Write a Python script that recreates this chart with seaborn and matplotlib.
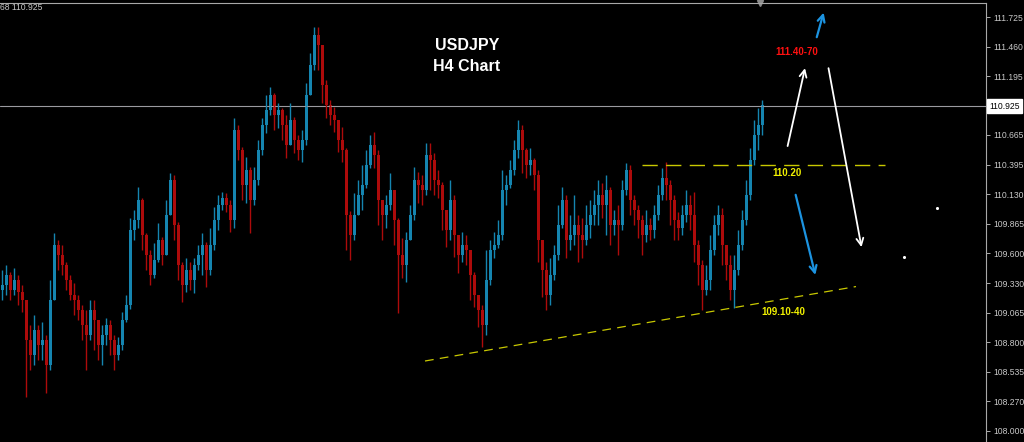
import matplotlib

matplotlib.use("Agg")
import matplotlib.pyplot as plt
import numpy as np
import seaborn as sns

# USDJPY H4 mumları (soldan sağa), açılış = önceki kapanış
FIRST_OPEN = 109.27
CLOSES = [
    109.31, 109.40, 109.27, 109.36, 109.25, 109.18, 108.82, 108.68, 108.91, 108.77,
    108.82, 108.59, 109.18, 109.67, 109.58, 109.49, 109.36, 109.22, 109.18, 109.09,
    108.95, 108.86, 109.09, 109.00, 108.77, 108.86, 108.95, 108.82, 108.68, 108.77,
    109.00, 109.13, 109.81, 109.90, 110.08, 109.76, 109.58, 109.40, 109.54, 109.72,
    109.58, 109.94, 110.26, 109.85, 109.49, 109.31, 109.45, 109.36, 109.49, 109.58,
    109.67, 109.45, 109.67, 109.90, 110.03, 110.10, 110.03, 109.90, 110.71, 110.53,
    110.21, 110.35, 110.08, 110.26, 110.53, 110.75, 110.89, 111.02, 110.84, 110.89,
    110.75, 110.57, 110.80, 110.62, 110.53, 110.62, 111.02, 111.29, 111.56, 111.47,
    111.11, 110.93, 110.84, 110.80, 110.62, 110.53, 109.94, 109.76, 109.94, 110.12,
    110.21, 110.39, 110.57, 110.48, 110.08, 109.94, 110.03, 110.17, 109.90, 109.58,
    109.49, 109.72, 109.94, 110.26, 110.21, 110.17, 110.48, 110.44, 110.26, 110.21,
    109.99, 109.81, 110.08, 109.76, 109.58, 109.67, 109.63, 109.40, 109.22, 109.09,
    108.95, 109.36, 109.63, 109.67, 109.76, 110.17, 110.21, 110.35, 110.53, 110.71,
    110.53, 110.39, 110.44, 110.30, 109.72, 109.45, 109.22, 109.40, 109.58, 109.85,
    110.08, 109.72, 109.76, 109.85, 109.76, 109.72, 109.85, 109.94, 110.03, 110.12,
    110.03, 110.17, 109.85, 109.90, 109.85, 110.17, 110.35, 110.08, 109.99, 109.90,
    109.76, 109.85, 109.81, 109.94, 110.12, 110.28, 110.21, 110.08, 109.90, 109.83,
    109.94, 110.03, 109.94, 109.67, 109.49, 109.27, 109.36, 109.63, 109.85, 109.94,
    109.67, 109.49, 109.27, 109.45, 109.67, 109.90, 110.12, 110.44, 110.66, 110.75,
    110.93,
]
HIGHS = [
    109.45, 109.49, 109.43, 109.47, 109.40, 109.31, 109.18, 108.95, 109.04, 108.95,
    108.98, 108.86, 109.36, 109.78, 109.72, 109.67, 109.52, 109.40, 109.33, 109.22,
    109.13, 109.09, 109.18, 109.18, 109.00, 108.95, 109.02, 109.00, 108.86, 108.85,
    109.07, 109.22, 109.92, 109.99, 110.20, 110.10, 109.78, 109.63, 109.69, 109.87,
    109.75, 110.08, 110.32, 110.30, 109.88, 109.52, 109.56, 109.52, 109.56, 109.67,
    109.78, 109.70, 109.83, 110.02, 110.12, 110.15, 110.14, 110.08, 110.82, 110.75,
    110.56, 110.47, 110.38, 110.38, 110.62, 110.82, 111.02, 111.10, 111.04, 110.95,
    110.91, 110.84, 110.95, 110.83, 110.66, 110.71, 111.13, 111.40, 111.64, 111.64,
    111.47, 111.16, 110.98, 110.92, 110.80, 110.74, 110.55, 109.98, 110.14, 110.26,
    110.39, 110.53, 110.66, 110.69, 110.53, 110.08, 110.12, 110.32, 110.17, 109.92,
    109.74, 109.79, 110.03, 110.38, 110.33, 110.30, 110.59, 110.59, 110.50, 110.35,
    110.24, 109.99, 110.26, 110.12, 109.76, 109.79, 109.76, 109.63, 109.43, 109.22,
    109.13, 109.63, 109.72, 109.79, 109.90, 110.35, 110.30, 110.44, 110.62, 110.80,
    110.75, 110.55, 110.55, 110.46, 110.35, 109.72, 109.52, 109.56, 109.67, 110.03,
    110.20, 110.12, 109.94, 110.12, 109.94, 109.92, 110.03, 110.08, 110.17, 110.26,
    110.23, 110.30, 110.20, 109.99, 110.03, 110.26, 110.41, 110.39, 110.12, 110.03,
    109.94, 109.99, 109.92, 110.03, 110.21, 110.37, 110.42, 110.26, 110.12, 109.97,
    110.03, 110.17, 110.12, 110.15, 109.72, 109.54, 109.49, 109.76, 109.94, 110.03,
    110.01, 109.67, 109.58, 109.58, 109.81, 109.99, 110.26, 110.55, 110.80, 110.91,
    110.98,
]
LOWS = [
    109.18, 109.22, 109.18, 109.22, 109.13, 109.07, 108.31, 108.55, 108.59, 108.64,
    108.64, 108.34, 108.55, 109.18, 109.45, 109.40, 109.27, 109.18, 109.04, 109.00,
    108.82, 108.55, 108.82, 108.73, 108.64, 108.59, 108.77, 108.68, 108.55, 108.64,
    108.73, 108.98, 109.10, 109.72, 109.83, 109.63, 109.45, 109.31, 109.38, 109.52,
    109.49, 109.58, 109.94, 109.72, 109.36, 109.16, 109.25, 109.27, 109.24, 109.45,
    109.40, 109.30, 109.40, 109.63, 109.81, 109.99, 109.97, 109.79, 109.83, 110.44,
    110.08, 110.05, 109.78, 110.03, 110.21, 110.48, 110.68, 110.84, 110.71, 110.73,
    110.62, 110.46, 110.57, 110.50, 110.44, 110.42, 110.57, 111.02, 111.25, 111.25,
    110.95, 110.82, 110.75, 110.69, 110.51, 110.42, 109.63, 109.54, 109.72, 109.94,
    109.99, 110.19, 110.37, 110.37, 109.85, 109.72, 109.83, 109.99, 109.67, 109.06,
    109.38, 109.34, 109.72, 109.90, 110.05, 110.03, 110.12, 110.17, 110.12, 110.10,
    109.81, 109.66, 109.72, 109.57, 109.42, 109.52, 109.49, 109.18, 109.12, 108.94,
    108.76, 108.86, 109.31, 109.56, 109.65, 109.72, 110.03, 110.19, 110.30, 110.46,
    110.32, 110.28, 110.30, 110.17, 109.52, 109.21, 109.09, 109.13, 109.36, 109.54,
    109.83, 109.56, 109.63, 109.67, 109.52, 109.56, 109.67, 109.74, 109.85, 109.85,
    109.92, 109.76, 109.67, 109.76, 109.58, 109.81, 110.12, 109.94, 109.85, 109.74,
    109.58, 109.70, 109.72, 109.74, 109.90, 110.08, 110.08, 109.85, 109.72, 109.72,
    109.76, 109.88, 109.81, 109.52, 109.31, 109.09, 109.22, 109.27, 109.58, 109.76,
    109.49, 109.36, 109.18, 109.11, 109.40, 109.63, 109.85, 110.08, 110.39, 110.53,
    110.66,
]

Y_TICKS = [108.000, 108.270, 108.535, 108.800, 109.065, 109.330, 109.600,
           109.865, 110.130, 110.395, 110.665, 111.195, 111.460, 111.725]
CURRENT_PRICE = 110.925

RESISTANCE_X = [160, 220.75]
RESISTANCE_Y = [110.39, 110.39]
SUPPORT_X = [105.75, 213.5]
SUPPORT_Y = [108.63, 109.30]

DOT_X = [233.75, 225.5]
DOT_Y = [110.01, 109.57]

# (başlangıç, uç) — mum indeksi ve fiyat
WHITE_ARROWS = [((196.25, 110.54), (200.9, 111.29)), ((206.5, 111.29), (215.0, 109.63))]
BLUE_ARROWS = [((203.5, 111.52), (205.6, 111.79)), ((198.25, 110.15), (203.5, 109.38))]

BULL = "#1585b0"
BEAR = "#ad0b0b"
LINE_YELLOW = "#c8c800"
TEXT_YELLOW = "#f0f000"


def candles(ax):
    closes = np.array(CLOSES)
    opens = np.concatenate([[FIRST_OPEN], closes[:-1]])
    idx = np.arange(len(closes))
    colors = np.where(closes >= opens, BULL, BEAR)
    ax.vlines(idx, LOWS, HIGHS, colors=colors, linewidth=1.0)
    ax.bar(idx, closes - opens, bottom=opens, width=0.75, color=colors, linewidth=0)


def main():
    sns.set_style("dark", rc={"axes.facecolor": "black", "figure.facecolor": "black"})
    plt.rcParams["font.family"] = ["Liberation Sans", "DejaVu Sans"]

    fig = plt.figure(figsize=(10.24, 4.42), dpi=100)
    ax = fig.add_axes([0, 0, 986 / 1024, 439 / 442])
    ax.set_facecolor("black")

    candles(ax)

    ax.axhline(CURRENT_PRICE, color="#9a9aa0", linewidth=0.8, zorder=1)
    ax.plot(RESISTANCE_X, RESISTANCE_Y, color=LINE_YELLOW, linewidth=1.0, dashes=(11, 6))
    ax.plot(SUPPORT_X, SUPPORT_Y, color=LINE_YELLOW, linewidth=0.9, dashes=(7, 5))
    sns.scatterplot(x=DOT_X, y=DOT_Y, ax=ax, color="white", s=5, linewidth=0)

    for start, end in WHITE_ARROWS:
        ax.annotate("", xy=end, xytext=start,
                    arrowprops=dict(arrowstyle="->,head_length=0.5,head_width=0.25",
                                    color="white", lw=1.3))
    for start, end in BLUE_ARROWS:
        ax.annotate("", xy=end, xytext=start,
                    arrowprops=dict(arrowstyle="->,head_length=0.5,head_width=0.25",
                                    color="#1c93e0", lw=1.6))

    ax.text(116.25, 111.47, "USDJPY", color="white", fontsize=11.5, fontweight="bold",
            ha="center", va="center")
    ax.text(116.25, 111.285, "H4 Chart", color="white", fontsize=11.5, fontweight="bold",
            ha="center", va="center")
    ax.text(198.75, 111.41, "111.40-70", color="#ff1010", fontsize=7, fontweight="bold",
            ha="center", va="center")
    ax.text(196.25, 110.32, "110.20", color=TEXT_YELLOW, fontsize=7, fontweight="bold",
            ha="center", va="center")
    ax.text(195.25, 109.07, "109.10-40", color=TEXT_YELLOW, fontsize=7, fontweight="bold",
            ha="center", va="center")

    ax.set_xlim(-0.5, 246)
    ax.set_ylim(107.901, 111.852)
    ax.set_xticks([])
    ax.yaxis.tick_right()
    ax.set_yticks(Y_TICKS)
    ax.set_yticklabels([f"{v:.3f}" for v in Y_TICKS])
    ax.tick_params(axis="y", colors="#c8c8c8", labelsize=6.2, length=3, width=0.6, pad=2)
    ax.grid(False)
    for side in ("left", "bottom"):
        ax.spines[side].set_visible(False)
    for side in ("top", "right"):
        ax.spines[side].set_visible(True)
        ax.spines[side].set_color("#a8a8a8")
        ax.spines[side].set_linewidth(0.8)

    ax.text(1.003, CURRENT_PRICE, f"{CURRENT_PRICE:.3f}", transform=ax.get_yaxis_transform(),
            color="black", fontsize=6.2, va="center", ha="left",
            bbox=dict(boxstyle="square,pad=0.25", facecolor="white", edgecolor="white"))
    ax.plot([189.5], [111.852], marker="v", color="#8c8c8c", markersize=4, clip_on=False)
    fig.text(0.0, 0.982, "68 110.925", color="#c8c8c8", fontsize=6.2, va="center", ha="left")

    fig.savefig("out.png", dpi=100, facecolor="black")
    plt.close(fig)


if __name__ == "__main__":
    main()
